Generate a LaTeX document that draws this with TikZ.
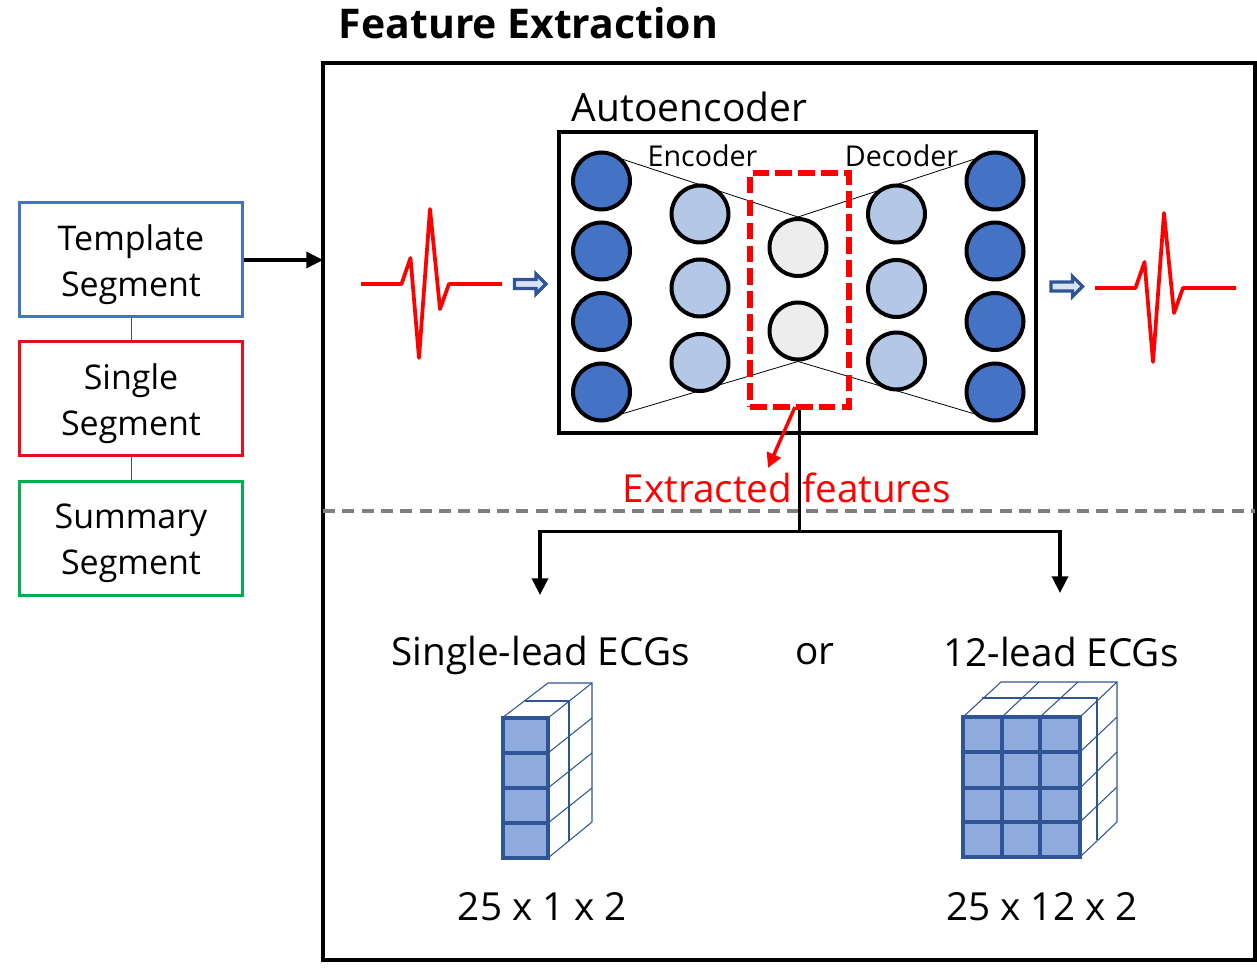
\documentclass[tikz,border=0pt]{standalone}
\usepackage{fontspec}
\setmainfont{Open Sans}
\usetikzlibrary{arrows.meta,backgrounds}
\definecolor{cdark}{HTML}{4472C4}
\definecolor{clight}{HTML}{B4C7E7}
\definecolor{cgrey}{HTML}{EDEDED}
\definecolor{cedge}{HTML}{2F5597}
\definecolor{ccell}{HTML}{8FAADC}
\definecolor{cpale}{HTML}{DAE3F3}
\definecolor{cgreen}{HTML}{00B050}
\definecolor{cred}{HTML}{FF0000}
\definecolor{cboxred}{HTML}{E3101A}
\definecolor{cdash}{HTML}{7F7F7F}
\tikzset{
  x=0.75pt,y=-0.75pt,
  neuron/.style={circle,draw=black,line width=3pt,minimum size=42.75pt,inner sep=0pt},
  dark/.style={neuron,fill=cdark},
  light/.style={neuron,fill=clight},
  pale/.style={neuron,fill=cgrey},
  segbox/.style={rectangle,line width=2.25pt,minimum width=167pt,minimum height=85.5pt},
  seglbl/.style={align=center,inner sep=0pt,yshift=-3.75pt,font=\fontsize{25.5}{34.7}\selectfont},
  lbl/.style={inner sep=0pt,font=\fontsize{29}{32}\selectfont},
  thin link/.style={line width=0.6pt,draw=black},
  ecg/.style={draw=cred,line width=2.8pt,line join=round},
  hollow/.style={draw=cedge,fill=cpale,line width=2.4pt,line join=miter},
  grid3d/.style={draw=cedge,line width=0.8pt},
  cell/.style={draw=cedge,fill=ccell,line width=3pt},
  cellline/.style={draw=cedge,line width=3pt},
  bigarrow/.style={draw=black,line width=2.5pt,-{Triangle[length=12.5pt,width=12pt]}},
}
\begin{document}
\begin{tikzpicture}
\useasboundingbox (0,0) rectangle (1257,969);
% title and main frame
\node[inner sep=0pt,font=\bfseries\fontsize{30.7}{34}\selectfont] (title) at (528.5,23) {Feature Extraction};
\node[rectangle,draw=black,line width=3pt,outer sep=0pt,minimum width=699pt,minimum height=672.75pt] (main) at (789,511.5) {};
% segment boxes
\node[segbox,draw=cdark,label={[seglbl]center:{Template\\Segment}}] (tpl) at (131,260) {};
\node[segbox,draw=cboxred,label={[seglbl]center:{Single\\Segment}}] (sgl) at (131,399) {};
\node[segbox,draw=cgreen,label={[seglbl]center:{Summary\\Segment}}] (sum) at (131,538.5) {};
\draw[draw=black!70,line width=0.6pt] (tpl) -- (sgl);
\draw[draw=black!70,line width=0.6pt] (sgl) -- (sum);
\draw[bigarrow] (tpl.east) -- (tpl.east -| main.west);
% autoencoder
\node[lbl,font=\fontsize{29.2}{32}\selectfont] (aelabel) at (689.5,107) {Autoencoder};
\node[rectangle,draw=black,line width=3pt,minimum width=357.75pt,minimum height=226pt] (ae) at (797.5,282.75) {};
\node[lbl,font=\fontsize{21.5}{24}\selectfont] (enc) at (702.5,156) {Encoder};
\node[lbl,font=\fontsize{21.5}{24}\selectfont] (dec) at (901.5,156) {Decoder};
\foreach \n/\y in {1/181,2/251,3/321.5,4/392}{
  \node[dark] (l\n) at (601.5,\y) {};
  \node[dark] (r\n) at (995,\y) {};
}
\foreach \n/\y in {1/214,2/288,3/362.5}{
  \node[light] (a\n) at (700,\y) {};
}
\foreach \n/\y in {1/214,2/288.5,3/361}{
  \node[light] (b\n) at (896.5,\y) {};
}
\node[pale] (m1) at (798,247.5) {};
\node[pale] (m2) at (798,331) {};
\begin{scope}[on background layer]
  \draw[thin link] (l1.45) -- (m1.north);
  \draw[thin link] (l4.-45) -- (m2.south);
  \draw[thin link] (r1.135) -- (m1.north);
  \draw[thin link] (r4.-135) -- (m2.south);
\end{scope}
\node[rectangle,draw=cred,line width=4.5pt,dash pattern=on 12.5pt off 4.7pt,minimum width=74.25pt,minimum height=175.5pt] (latent) at (799.5,290) {};
% signals
\draw[ecg] (361,284) coordinate (e0) -- (401.5,284) -- (410.5,258) -- (419,358) -- (430,209) -- (440,309) -- (449,284) -- (502,284) coordinate (e1);
\draw[ecg] (1095,288) coordinate (f0) -- (1135.5,288) -- (1144.5,262) -- (1153,362) -- (1164,213) -- (1174,313) -- (1183,288) -- (1236,288) coordinate (f1);
\draw[hollow] (514.5,279.5) -- (536,279.5) -- (536,274) -- (546,284) -- (536,294) -- (536,288.5) -- (514.5,288.5) -- cycle;
\draw[hollow] (1051,282) -- (1072.5,282) -- (1072.5,276.5) -- (1082.5,286.5) -- (1072.5,296.5) -- (1072.5,291) -- (1051,291) -- cycle;
% divider
\coordinate (dl) at (main.west |- 0,511);
\coordinate (dr) at (main.east |- 0,511);
\draw[draw=cdash,line width=3pt,dash pattern=on 9pt off 5.5pt] (dl) -- (dr);
% outputs
\node[lbl,text=cred] (ext) at (787,488) {Extracted features};
\node[lbl] (single) at (540.5,655) {Single-lead ECGs};
\node[lbl] (or) at (815,654) {or};
\node[lbl] (twelve) at (1061,652) {12-lead ECGs};
\node[lbl] (d1) at (542.5,907) {25 x 1 x 2};
\node[lbl] (d2) at (1042,907) {25 x 12 x 2};
\coordinate (redtip) at (768,468);
\draw[draw=cred,line width=2.6pt,-{Triangle[length=11pt,width=11pt]}] (795,407) -- (redtip);
\coordinate (split) at (latent.south |- 0,531.5);
\coordinate (tipL) at (540,595);
\coordinate (tipR) at (1060,593);
\draw[draw=black,line width=2.5pt] (latent.south) -- (split);
\draw[bigarrow] (split) -| (tipL);
\draw[bigarrow] (split) -| (tipR);
% single-lead cuboid
\draw[grid3d] (502,718) -- (548,683) -- (592,683) -- (592,822) -- (548,858);
\draw[grid3d] (525,701) -- (569,701) -- (569,841);
\draw[grid3d] (548,718) -- (592,683);
\foreach \y/\z in {753/718,788/753,823/788}{\draw[grid3d] (548,\y) -- (592,\z);}
\draw[cell] (502.5,718) rectangle (548,858);
\foreach \y in {753,788,823}{\draw[cellline] (502.5,\y) -- (548,\y);}
% twelve-lead cuboid
\draw[grid3d] (963,717) -- (1001,682) -- (1117,682) -- (1117,822) -- (1080,857);
\draw[grid3d] (982,698) -- (1097,698) -- (1097,840);
\draw[grid3d] (1002,717) -- (1039,682);
\draw[grid3d] (1040,717) -- (1078,682);
\draw[grid3d] (1080,717) -- (1117,682);
\foreach \y/\z in {752/717,788/752,822/787}{\draw[grid3d] (1080,\y) -- (1117,\z);}
\draw[cell] (963,717) rectangle (1080,857);
\foreach \y in {752,788,822}{\draw[cellline] (963,\y) -- (1080,\y);}
\foreach \x in {1002,1040}{\draw[cellline] (\x,717) -- (\x,857);}
\end{tikzpicture}
\end{document}
